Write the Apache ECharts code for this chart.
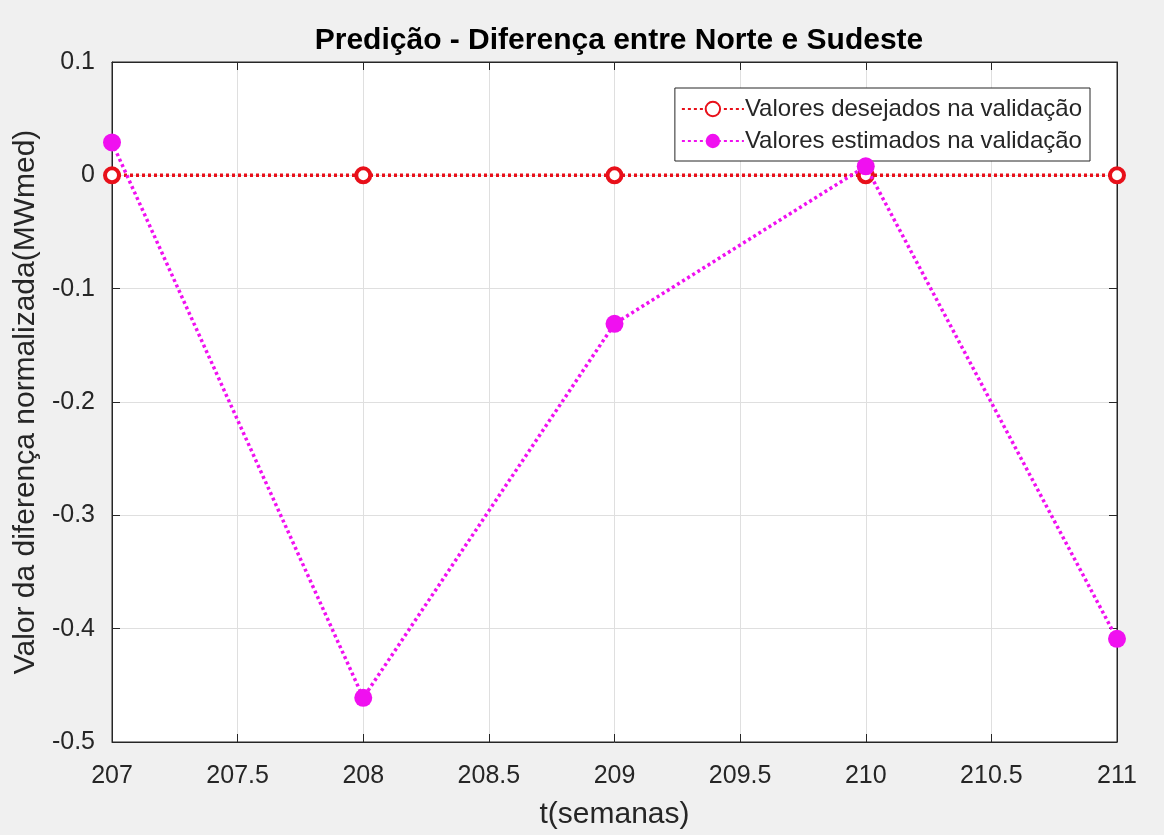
<!DOCTYPE html>
<html>
<head>
<meta charset="utf-8">
<script src="https://cdn.jsdelivr.net/npm/echarts@6/dist/echarts.min.js"></script>
<style>
  html, body { margin: 0; padding: 0; background: #f0f0f0; overflow: hidden; }
  #chart { width: 1164px; height: 835px; }
</style>
</head>
<body>
<div id="chart"></div>
<script>
// Weeks along the horizontal axis
const weeks = [207, 208, 209, 210, 211];
// Desired values in validation
const desired = [0, 0, 0, 0, 0];
// Estimated values in validation
const estimated = [0.029, -0.461, -0.131, 0.008, -0.409];

const font = 'Liberation Sans, Arial, Helvetica, sans-serif';
const ink = '#262626';
const gridGrey = '#dfdfdf';

const chart = echarts.init(document.getElementById('chart'));

const pair = (ys) => weeks.map((w, i) => [w, ys[i]]);
const fmtY = (v) => String(Math.round(v * 10) / 10);

const boxAxisLine = { show: true, onZero: false, lineStyle: { color: ink } };
const boxTick = { show: true, inside: true, length: 8, lineStyle: { color: ink } };

chart.setOption({
  backgroundColor: '#f0f0f0',
  animation: false,
  title: {
    text: 'Predição - Diferença entre Norte e Sudeste',
    left: 614,
    top: 21,
    textAlign: 'center',
    textStyle: { fontFamily: font, fontSize: 30, fontWeight: 'bold', color: '#000' }
  },
  legend: {
    orient: 'vertical',
    right: 74,
    top: 88,
    backgroundColor: '#fff',
    borderColor: ink,
    borderWidth: 1,
    borderRadius: 0,
    padding: [9, 8, 8, 6],
    itemGap: 8,
    itemWidth: 62,
    itemHeight: 18,
    textStyle: { fontFamily: font, fontSize: 24, color: ink, padding: [0, 0, 0, -4] },
    data: ['Valores desejados na validação', 'Valores estimados na validação']
  },
  grid: {
    left: 112, top: 62, right: 47, bottom: 88,
    show: true, backgroundColor: '#fff', borderColor: ink, borderWidth: 1
  },
  xAxis: [{
    type: 'value', min: 207, max: 211, interval: 0.5,
    name: 't(semanas)', nameLocation: 'middle', nameGap: 58,
    nameTextStyle: { fontFamily: font, fontSize: 30, color: ink },
    axisLine: boxAxisLine,
    axisTick: boxTick,
    axisLabel: { fontFamily: font, fontSize: 25, color: ink, margin: 22 },
    splitLine: { show: true, lineStyle: { color: gridGrey, width: 1 } }
  }, {
    type: 'value', min: 207, max: 211, interval: 0.5, position: 'top',
    axisLine: boxAxisLine, axisTick: boxTick,
    axisLabel: { show: false }, splitLine: { show: false }
  }],
  yAxis: [{
    type: 'value', min: -0.5, max: 0.1, interval: 0.1,
    name: 'Valor da diferença normalizada(MWmed)', nameLocation: 'middle', nameGap: 66,
    nameTextStyle: { fontFamily: font, fontSize: 30, color: ink },
    axisLine: boxAxisLine,
    axisTick: boxTick,
    axisLabel: { fontFamily: font, fontSize: 25, color: ink, margin: 17, padding: [10, 0, 0, 0], formatter: fmtY },
    splitLine: { show: true, lineStyle: { color: gridGrey, width: 1 } }
  }, {
    type: 'value', min: -0.5, max: 0.1, interval: 0.1, position: 'right',
    axisLine: boxAxisLine, axisTick: boxTick,
    axisLabel: { show: false }, splitLine: { show: false }
  }],
  series: [{
    name: 'Valores desejados na validação',
    type: 'line',
    data: pair(desired),
    symbol: 'circle',
    symbolSize: 14,
    lineStyle: { color: '#e8101a', width: 3.5, type: [3, 3] },
    itemStyle: { color: '#fff', borderColor: '#e8101a', borderWidth: 4 },
    z: 3
  }, {
    name: 'Valores estimados na validação',
    type: 'line',
    data: pair(estimated),
    symbol: 'circle',
    symbolSize: 18,
    lineStyle: { color: '#f010f0', width: 3.5, type: [3, 3] },
    itemStyle: { color: '#f010f0', borderWidth: 0 },
    z: 4
  }]
});
</script>
</body>
</html>
